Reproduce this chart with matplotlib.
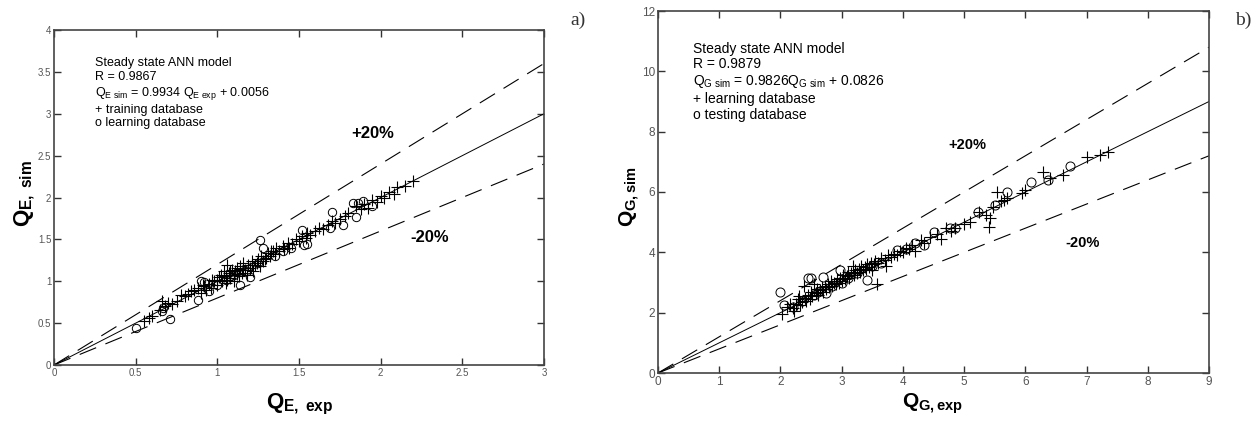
import numpy as np
import matplotlib.pyplot as plt

plt.rcParams['font.family'] = ['Liberation Sans', 'DejaVu Sans']
plt.rcParams['mathtext.fontset'] = 'custom'
plt.rcParams['mathtext.rm'] = 'Liberation Sans'
plt.rcParams['mathtext.it'] = 'Liberation Sans'
plt.rcParams['mathtext.bf'] = 'Liberation Sans:bold'

# panel a) - Q_E, training (+) and learning (o) database
e_train_x = [0.55, 0.58, 0.60, 0.65, 0.66, 0.68, 0.70, 0.72, 0.75, 0.78, 0.80, 0.82, 0.84, 0.86,
             0.88, 0.90, 0.92, 0.93, 0.95, 0.96, 0.98, 1.00, 1.00, 1.01, 1.02, 1.03, 1.04, 1.05,
             1.05, 1.06, 1.07, 1.08, 1.09, 1.10, 1.10, 1.11, 1.12, 1.13, 1.14, 1.15, 1.16, 1.17,
             1.18, 1.19, 1.20, 1.21, 1.22, 1.23, 1.25, 1.26, 1.27, 1.28, 1.30, 1.31, 1.32, 1.34,
             1.35, 1.36, 1.38, 1.40, 1.41, 1.43, 1.44, 1.46, 1.48, 1.50, 1.52, 1.54, 1.55, 1.57,
             1.60, 1.62, 1.65, 1.68, 1.70, 1.72, 1.75, 1.78, 1.80, 1.85, 1.88, 1.90, 1.92, 1.95,
             1.98, 2.00, 2.02, 2.05, 2.08, 2.10, 2.15, 2.20,
             1.04, 1.08, 1.12, 1.16, 1.24, 1.29, 1.33, 0.97, 0.91, 1.06, 1.14, 1.21]
e_train_y = [0.53, 0.56, 0.58, 0.66, 0.77, 0.70, 0.74, 0.73, 0.76, 0.84, 0.82, 0.85, 0.88, 0.90,
             0.92, 0.86, 0.94, 0.90, 0.97, 0.92, 1.00, 1.02, 0.96, 1.05, 1.08, 1.00, 1.12, 1.06,
             0.98, 1.20, 1.10, 1.04, 1.14, 1.08, 1.00, 1.12, 1.16, 1.06, 1.18, 1.10, 1.22, 1.14,
             1.08, 1.20, 1.16, 1.24, 1.12, 1.20, 1.26, 1.18, 1.30, 1.24, 1.28, 1.34, 1.30, 1.36,
             1.32, 1.40, 1.36, 1.42, 1.38, 1.46, 1.40, 1.44, 1.50, 1.48, 1.54, 1.52, 1.58, 1.55,
             1.60, 1.64, 1.62, 1.67, 1.72, 1.70, 1.74, 1.78, 1.82, 1.90, 1.86, 1.92, 1.88, 1.97,
             1.95, 2.02, 2.00, 2.06, 2.04, 2.12, 2.14, 2.20,
             1.06, 1.12, 1.09, 1.13, 1.22, 1.27, 1.36, 1.02, 0.95, 1.02, 1.15, 1.19]
e_learn_x = [0.50, 0.66, 0.67, 0.71, 0.88, 0.90, 0.92, 0.95, 1.00, 1.05, 1.10, 1.14, 1.18, 1.20,
             1.25, 1.26, 1.28, 1.35, 1.40, 1.45, 1.52, 1.53, 1.55, 1.69, 1.70, 1.77, 1.83, 1.86,
             1.89, 1.85, 1.95]
e_learn_y = [0.44, 0.65, 0.68, 0.55, 0.78, 1.00, 0.99, 0.88, 0.95, 1.02, 1.08, 0.96, 1.12, 1.05,
             1.22, 1.49, 1.40, 1.30, 1.36, 1.40, 1.61, 1.43, 1.45, 1.63, 1.83, 1.67, 1.93, 1.94,
             1.96, 1.77, 1.90]

# panel b) - Q_G, learning (+) and testing (o) database
g_learn_x = [2.02, 2.10, 2.15, 2.20, 2.22, 2.25, 2.28, 2.30, 2.32, 2.35, 2.38, 2.40, 2.42, 2.45,
             2.48, 2.50, 2.52, 2.55, 2.58, 2.60, 2.62, 2.65, 2.68, 2.70, 2.72, 2.75, 2.78, 2.80,
             2.82, 2.85, 2.88, 2.90, 2.92, 2.95, 2.98, 3.00, 3.02, 3.05, 3.08, 3.10, 3.12, 3.15,
             3.18, 3.20, 3.22, 3.25, 3.28, 3.30, 3.32, 3.35, 3.38, 3.40, 3.42, 3.45, 3.48, 3.50,
             3.52, 3.55, 3.58, 3.60, 3.65, 3.70, 3.72, 3.75, 3.80, 3.85, 3.90, 3.95, 4.00, 4.05,
             4.10, 4.15, 4.20, 4.30, 4.35, 4.45, 4.55, 4.62, 4.70, 4.78, 4.85, 5.00, 5.10, 5.25,
             5.35, 5.40, 5.42, 5.48, 5.53, 5.60, 5.65, 5.70, 5.95, 6.00, 6.29, 6.40, 6.62, 7.00,
             7.22, 7.35]
g_learn_y = [1.95, 2.20, 2.30, 2.15, 2.05, 2.30, 2.45, 2.55, 2.25, 2.35, 2.90, 2.50, 2.40, 2.60,
             2.45, 2.70, 2.55, 2.95, 2.65, 2.80, 2.60, 2.75, 2.85, 2.70, 2.90, 2.80, 2.95, 2.85,
             3.05, 2.90, 3.00, 2.95, 3.10, 3.00, 3.15, 3.05, 3.25, 3.10, 3.20, 3.35, 3.15, 3.30,
             3.55, 3.25, 3.40, 3.30, 3.45, 3.35, 3.55, 3.40, 3.50, 3.45, 3.60, 3.50, 3.65, 3.40,
             3.60, 3.70, 2.95, 3.65, 3.80, 3.75, 3.55, 3.90, 3.85, 3.95, 3.90, 4.05, 4.00, 4.15,
             4.10, 4.25, 4.05, 4.40, 4.30, 4.50, 4.60, 4.45, 4.80, 4.70, 4.80, 4.95, 5.00, 5.35,
             5.25, 4.83, 5.13, 5.50, 6.00, 5.70, 5.75, 5.80, 5.96, 6.05, 6.66, 6.45, 6.56, 7.15,
             7.22, 7.32]
g_test_x = [1.99, 2.05, 2.20, 2.35, 2.45, 2.50, 2.55, 2.62, 2.70, 2.75, 2.85, 2.97, 3.00, 3.10,
            3.25, 3.41, 3.50, 3.65, 3.90, 4.05, 4.20, 4.35, 4.50, 4.77, 4.85, 5.23, 5.50, 5.70,
            6.10, 6.37, 6.73]
g_test_y = [2.68, 2.25, 2.20, 2.40, 3.14, 3.15, 2.60, 2.70, 3.18, 2.65, 2.90, 3.41, 3.00, 3.15,
            3.30, 3.08, 3.55, 3.65, 4.07, 4.10, 4.30, 4.25, 4.67, 4.80, 4.80, 5.33, 5.56, 6.00,
            6.32, 6.39, 6.85]

fig = plt.figure(figsize=(12.54, 4.21), dpi=100)
ax1 = fig.add_axes([54/1254, 1-365/421, 490/1254, 335/421])
ax2 = fig.add_axes([658/1254, 1-373/421, 551/1254, 362/421])


def style(ax, xmax, ymax, fs):
    ax.set_xlim(0, xmax)
    ax.set_ylim(0, ymax)
    for s in ax.spines.values():
        s.set_color('#444444')
        s.set_linewidth(1.2)
    ax.tick_params(direction='in', top=True, right=True, length=5, width=1,
                   labelsize=fs, labelcolor='#555555', color='#333333', pad=2)
    xx = np.array([0, xmax])
    ax.plot(xx, xx, 'k-', lw=0.7)
    ax.plot(xx, 1.2 * xx, 'k--', lw=0.8, dashes=(16, 9))
    ax.plot(xx, 0.8 * xx, 'k--', lw=0.8, dashes=(16, 9))


style(ax1, 3, 4, 7)
ax1.set_xticks([0, 0.5, 1, 1.5, 2, 2.5, 3])
ax1.set_xticklabels(['0', '0.5', '1', '1.5', '2', '2.5', '3'])
ax1.set_yticks([0, 0.5, 1, 1.5, 2, 2.5, 3, 3.5, 4])
ax1.set_yticklabels(['0', '0.5', '1', '1.5', '2', '2.5', '3', '3.5', '4'])
ax1.plot(e_train_x, e_train_y, 'k+', ms=8, mew=0.8)
ax1.plot(e_learn_x, e_learn_y, 'o', ms=6, mfc='none', mec='k', mew=0.7)
ax1.text(0.084, 0.92, 'Steady state ANN model\nR = 0.9867\n'
         'Q$_{\\mathrm{E\\ sim}}$ = 0.9934 Q$_{\\mathrm{E\\ exp}}$ + 0.0056\n'
         '+ training database\no learning database',
         transform=ax1.transAxes, fontsize=9, va='top', ha='left', linespacing=1.2)
ax1.text(1.95, 2.77, '+20%', fontsize=12, fontweight='bold', ha='center', va='center')
ax1.text(2.30, 1.52, '-20%', fontsize=12, fontweight='bold', ha='center', va='center')

style(ax2, 9, 12, 8.5)
ax2.set_xticks(range(0, 10))
ax2.set_yticks(range(0, 13, 2))
ax2.plot(g_learn_x, g_learn_y, 'k+', ms=8, mew=0.8)
ax2.plot(g_test_x, g_test_y, 'o', ms=6.5, mfc='none', mec='k', mew=0.7)
ax2.text(0.064, 0.915, 'Steady state ANN model\nR = 0.9879\n'
         'Q$_{\\mathrm{G\\ sim}}$ = 0.9826Q$_{\\mathrm{G\\ sim}}$ + 0.0826\n'
         '+ learning database\no testing database',
         transform=ax2.transAxes, fontsize=10, va='top', ha='left', linespacing=1.15)
ax2.text(5.05, 7.55, '+20%', fontsize=10.5, fontweight='bold', ha='center', va='center')
ax2.text(6.94, 4.30, '-20%', fontsize=10.5, fontweight='bold', ha='center', va='center')

fig.text(300/1254, 0.04, r'$\mathbf{Q_{E,\ exp}}$', fontsize=16, ha='center', va='center')
fig.text(25/1254, 1-194/421, r'$\mathbf{Q_{E,\ sim}}$', fontsize=16, ha='center', va='center',
         rotation=90)
fig.text(932/1254, 0.04, r'$\mathbf{Q_{G,exp}}$', fontsize=15, ha='center', va='center')
fig.text(630/1254, 1-197/421, r'$\mathbf{Q_{G,sim}}$', fontsize=15, ha='center', va='center',
         rotation=90)

fig.text(578/1254, 1-20/421, 'a)', fontsize=14, family='Liberation Serif', ha='center',
         va='center', color='#333333')
fig.text(1243/1254, 1-20/421, 'b)', fontsize=14, family='Liberation Serif', ha='center',
         va='center', color='#333333')

fig.savefig('out.png', dpi=100)
